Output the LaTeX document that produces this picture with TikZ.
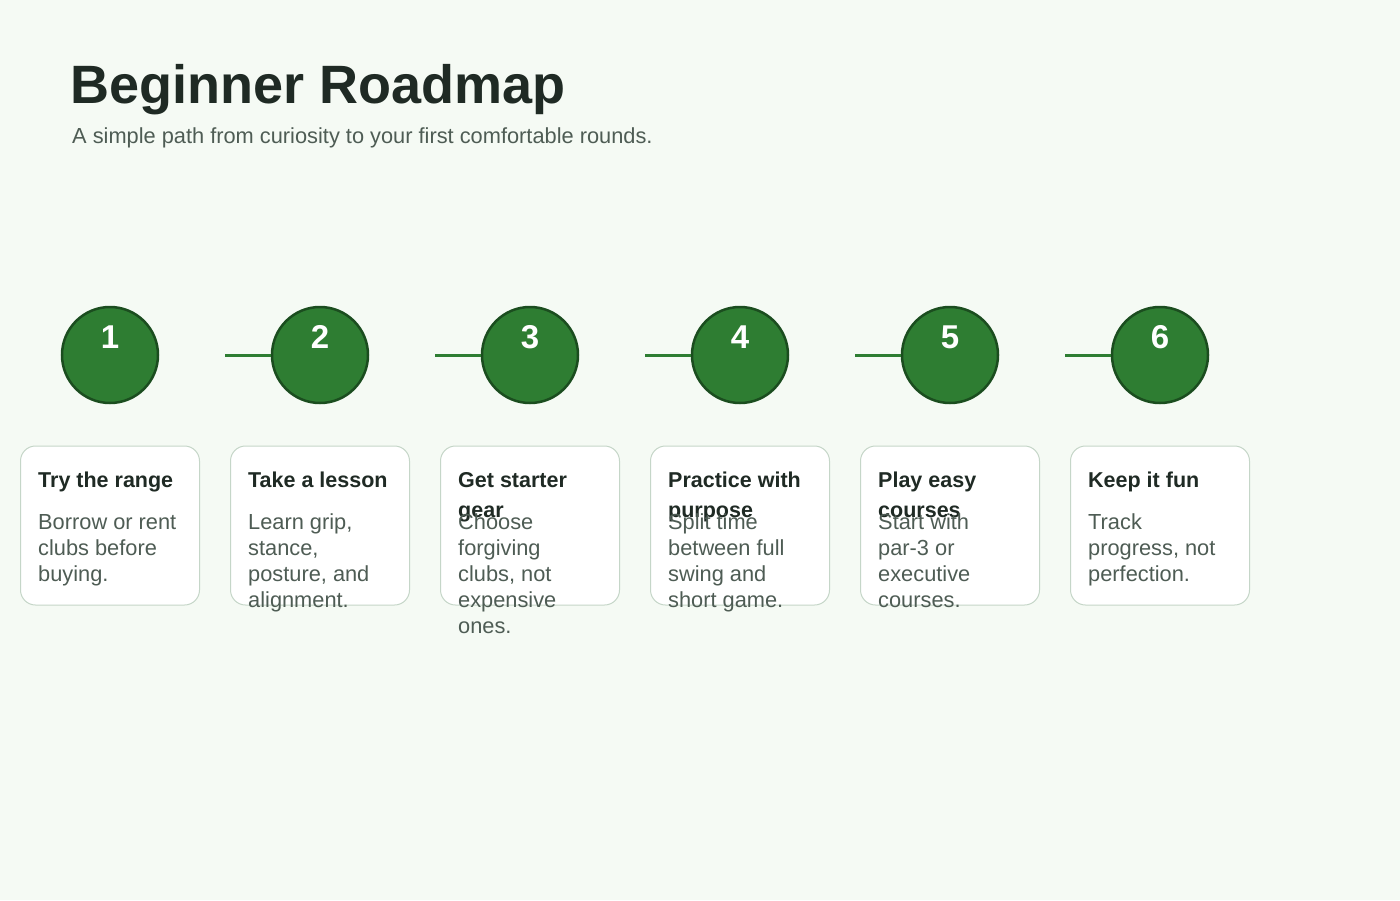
\documentclass[tikz,border=0pt]{standalone}
\usepackage{fontspec}
\setmainfont{Liberation Sans}
\definecolor{bg}{HTML}{F5FAF4}
\definecolor{ink}{HTML}{1F2A24}
\definecolor{sub}{HTML}{4E5C54}
\definecolor{gr}{HTML}{2E7D32}
\definecolor{dgr}{HTML}{1B4D1F}
\definecolor{cb}{HTML}{C5D6C8}
\begin{document}
\begin{tikzpicture}[x=1pt,y=-1pt,
  stepc/.style={circle,draw=dgr,line width=2.5pt,fill=gr,minimum size=96pt,inner sep=0pt},
  num/.style={text=white,font=\fontsize{33}{33}\selectfont\bfseries},
  card/.style={draw=cb,line width=1pt,fill=white,rounded corners=15pt},
  ttl/.style={anchor=base west,text=ink,font=\fontsize{21.5}{21.5}\selectfont\bfseries,inner sep=0pt},
  bdy/.style={anchor=base west,text=sub,font=\fontsize{21.8}{21.8}\selectfont,inner sep=0pt},
  conn/.style={draw=gr,line width=3pt}]
\fill[bg] (0,0) rectangle (1400,900);
\useasboundingbox (0,0) rectangle (1400,900);
\node[anchor=base west,inner sep=0pt,text=ink,font=\fontsize{54}{54}\selectfont\bfseries] (title) at (70,103) {Beginner Roadmap};
\node[anchor=base west,inner sep=0pt,text=sub,font=\fontsize{21.8}{21.8}\selectfont] (subt) at (72,143) {A simple path from curiosity to your first comfortable rounds.};
\foreach \i/\x in {1/110,2/320,3/530,4/740,5/950,6/1160}{
  \node[stepc] (c\i) at (\x,355) {};
  \node[num] (n\i) at (\x,337) {\i};
  \node[card,minimum width=179pt,minimum height=159pt,inner sep=0pt] (k\i) at (\x,525.5) {};
}
\foreach \i/\x in {2/320,3/530,4/740,5/950,6/1160}{
  \coordinate (s\i) at (\x-95,355);
  \draw[conn] (s\i) -- (c\i.west);
}
\newcommand\cardtext[3]{%
  \foreach \t [count=\j] in {#2}{\node[ttl] at (#1,487+30*\j-30) {\t};}
  \foreach \t [count=\j] in {#3}{\node[bdy] at (#1,529+26*\j-26) {\t};}}
\cardtext{38}{Try the range}{Borrow or rent,clubs before,buying.}
\cardtext{248}{Take a lesson}{{Learn grip,},{stance,},{posture, and},alignment.}
\cardtext{458}{Get starter,gear}{Choose,forgiving,{clubs, not},expensive,ones.}
\cardtext{668}{Practice with,purpose}{Split time,between full,swing and,short game.}
\cardtext{878}{Play easy,courses}{Start with,par-3 or,executive,courses.}
\cardtext{1088}{Keep it fun}{Track,{progress, not},perfection.}
\end{tikzpicture}
\end{document}
